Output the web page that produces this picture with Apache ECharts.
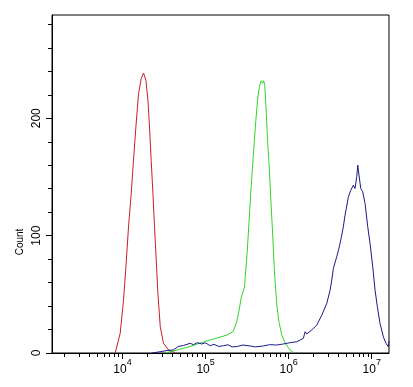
<!DOCTYPE html>
<html>
<head>
<meta charset="utf-8">
<script src="https://cdn.jsdelivr.net/npm/echarts@6/dist/echarts.min.js"></script>
<style>
  html, body { margin: 0; padding: 0; background: #fff; }
  #chart { width: 413px; height: 387px; }
</style>
</head>
<body>
<div id="chart"></div>
<script>
// x values are log10 of fluorescence intensity, y values are event counts
const redX = [3.912, 3.972, 4.012, 4.041, 4.072, 4.105, 4.132, 4.161, 4.193, 4.225, 4.253, 4.282, 4.306, 4.325, 4.345, 4.366, 4.385, 4.406, 4.426, 4.454, 4.493, 4.554, 4.634];
const redY = [0, 16.8, 45, 73.4, 107.4, 136, 164.4, 192.6, 221, 233.8, 238.6, 232.3, 215.3, 192.6, 164.2, 136, 107.4, 79.1, 50.6, 22.5, 8.3, 2.6, 0.3];

const greenX = [4.514, 4.658, 4.814, 4.935, 5.031, 5.139, 5.259, 5.332, 5.374, 5.404, 5.428, 5.468, 5.500, 5.524, 5.548, 5.576, 5.605, 5.629, 5.650, 5.668, 5.687, 5.699, 5.711, 5.725, 5.744, 5.768, 5.788, 5.809, 5.828, 5.857, 5.885, 5.917, 5.957, 6.017, 6.065];
const greenY = [0, 2.6, 5.5, 8.5, 10.6, 12.8, 15.3, 18.3, 26.4, 36.6, 46.8, 56.4, 84.8, 113.2, 141.5, 169.9, 198.3, 218.1, 227.2, 231.9, 229.8, 231.9, 229.0, 212.5, 184.1, 155.7, 127.3, 98.9, 70.5, 41.1, 26.0, 15.3, 8.5, 2.6, 0];

const blueX = [4.357, 4.453, 4.537, 4.613, 4.670, 4.734, 4.815, 4.855, 4.895, 4.955, 5.0, 5.055, 5.1, 5.16, 5.215, 5.27, 5.32, 5.376, 5.45, 5.536, 5.6, 5.696, 5.77, 5.857, 5.937, 6.017, 6.098, 6.177, 6.198, 6.218, 6.278, 6.339, 6.399, 6.459, 6.499, 6.519, 6.538, 6.579, 6.610, 6.631, 6.658, 6.679, 6.719, 6.748, 6.779, 6.799, 6.820, 6.832, 6.847, 6.868, 6.892, 6.920, 6.952, 6.980, 7.012, 7.040, 7.068, 7.100, 7.140, 7.172, 7.200, 7.208];
const blueY = [0, 1.1, 2.1, 2.6, 5.5, 6.4, 8.3, 7.0, 8.8, 7.7, 8.6, 6.2, 7.4, 5.6, 6.2, 7.0, 5.2, 5.5, 6.8, 6.0, 5.2, 6.0, 7.1, 6.8, 7.7, 8.8, 9.6, 12.5, 18.1, 16.2, 19.6, 23.8, 32.3, 42.3, 53.6, 62.1, 72.1, 82.0, 90.5, 97.6, 107.5, 117.4, 133.0, 138.7, 143.0, 140.2, 150.2, 160.1, 151.5, 140.2, 137.3, 127.4, 107.5, 93.4, 73.5, 53.6, 39.4, 25.2, 13.8, 8.2, 5.4, 10.2];

const xDecades = [4, 5, 6, 7];
const yMajorTicks = [0, 100, 200];
const yMinorTicks = [20, 40, 60, 80, 120, 140, 160, 180, 220, 240, 260, 280];
const xMin = 3.151;
const xMax = 7.208;
const yMax = 288;

const xMinorTicks = [];
for (let d = 3; d <= 7; d += 1) {
  for (let m = 2; m <= 9; m += 1) {
    const v = Math.log10(m * Math.pow(10, d));
    if (v >= xMin && v <= xMax) xMinorTicks.push(v);
  }
}

function zip(xs, ys) {
  return xs.map((x, i) => [x, ys[i]]);
}

const font = "'Liberation Sans', Arial, sans-serif";
const black = '#000';

const chart = echarts.init(document.getElementById('chart'), null, { renderer: 'canvas' });

chart.setOption({
  animation: false,
  backgroundColor: '#fff',
  grid: {
    left: 52,
    right: 24,
    top: 15,
    bottom: 34,
    show: true,
    borderColor: black,
    borderWidth: 1,
    outerBoundsMode: 'none',
    containLabel: false,
  },
  graphic: [
    {
      type: 'text',
      x: 20,
      y: 242,
      rotation: Math.PI / 2,
      style: {
        text: 'Count',
        fontSize: 10,
        fontFamily: font,
        fill: black,
        align: 'center',
        verticalAlign: 'middle',
      },
    },
  ],
  xAxis: [
    {
      type: 'value',
      min: xMin,
      max: xMax,
      position: 'bottom',
      axisLine: { show: true, lineStyle: { color: black, width: 1 } },
      axisTick: { show: true, customValues: xDecades, length: 6, lineStyle: { color: black } },
      axisLabel: {
        customValues: xDecades,
        margin: 5,
        formatter: (v) => `{b|10}{s|${Math.round(v)}}`,
        rich: {
          b: { fontSize: 12, fontFamily: font, color: black, verticalAlign: 'bottom', lineHeight: 18 },
          s: { fontSize: 9, fontFamily: font, color: black, verticalAlign: 'top', lineHeight: 18 },
        },
      },
      splitLine: { show: false },
    },
    {
      type: 'value',
      min: xMin,
      max: xMax,
      position: 'bottom',
      axisLine: { show: false },
      axisTick: { show: true, customValues: xMinorTicks, length: 4, lineStyle: { color: black } },
      axisLabel: { show: false },
      splitLine: { show: false },
    },
  ],
  yAxis: [
    {
      type: 'value',
      min: 0,
      max: yMax,
      position: 'left',
      axisLine: { show: true, lineStyle: { color: black, width: 1 } },
      axisTick: { show: true, customValues: yMajorTicks, length: 6, lineStyle: { color: black } },
      axisLabel: {
        customValues: yMajorTicks,
        rotate: 90,
        margin: 9,
        fontSize: 12,
        fontFamily: font,
        color: black,
      },
      splitLine: { show: false },
    },
    {
      type: 'value',
      min: 0,
      max: yMax,
      position: 'left',
      axisLine: { show: false },
      axisTick: { show: true, customValues: yMinorTicks, length: 4, lineStyle: { color: black } },
      axisLabel: { show: false },
      splitLine: { show: false },
    },
  ],
  series: [
    {
      name: 'red',
      type: 'line',
      data: zip(redX, redY),
      showSymbol: false,
      lineStyle: { color: '#c81e2c', width: 1 },
      silent: true,
    },
    {
      name: 'green',
      type: 'line',
      data: zip(greenX, greenY),
      showSymbol: false,
      lineStyle: { color: '#2fd52a', width: 1 },
      silent: true,
    },
    {
      name: 'blue',
      type: 'line',
      data: zip(blueX, blueY),
      showSymbol: false,
      lineStyle: { color: '#1c1a86', width: 1 },
      silent: true,
    },
  ],
});
</script>
</body>
</html>
